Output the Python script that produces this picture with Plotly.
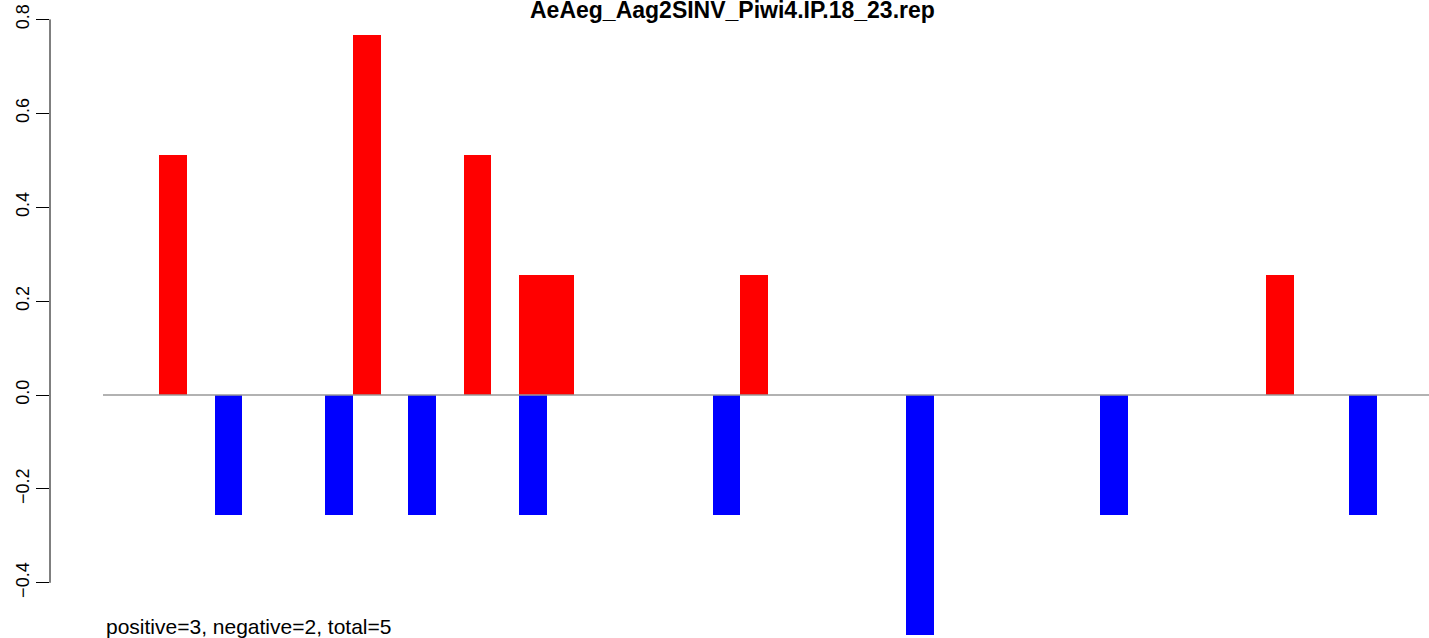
import plotly.graph_objects as go

# Data
positions_red = [0, 7, 11, 13, 14, 21, 40]
values_red = [0.511, 0.7665, 0.511, 0.2555, 0.2555, 0.2555, 0.2555]
positions_blue = [2, 6, 9, 13, 20, 27, 34, 43]
values_blue = [-0.2555, -0.2555, -0.2555, -0.2555, -0.2555, -0.511, -0.2555, -0.2555]
y_ticks = [-0.4, -0.2, 0.0, 0.2, 0.4, 0.6, 0.8]
y_tick_labels = ["\u22120.4", "\u22120.2", "0.0", "0.2", "0.4", "0.6", "0.8"]
title_text = "AeAeg_Aag2SINV_Piwi4.IP.18_23.rep"
footer_text = "positive=3, negative=2, total=5"

W, H = 1429, 638
L = 50
FONT = "Liberation Sans, Arial, Helvetica, sans-serif"

fig = go.Figure()
fig.add_trace(go.Bar(x=positions_red, y=values_red, width=1,
                     marker=dict(color="#ff0000", line=dict(width=0)), showlegend=False))
fig.add_trace(go.Bar(x=positions_blue, y=values_blue, width=1,
                     marker=dict(color="#0000ff", line=dict(width=0)), showlegend=False))

unit = 27.67
x_min = -(173 - L) / unit
x_max = x_min + (W - L) / unit
y_scale = 469.5
y_max = 395 / y_scale
y_min = -(H - 395) / y_scale

fig.update_layout(
    template="none",
    width=W, height=H,
    margin=dict(l=L, r=0, t=0, b=0, pad=0, autoexpand=False),
    paper_bgcolor="white", plot_bgcolor="white",
    barmode="overlay", bargap=0,
    font=dict(family=FONT, color="black"),
    xaxis=dict(range=[x_min, x_max], visible=False, fixedrange=True, automargin=False),
    yaxis=dict(range=[y_min, y_max], showgrid=False, zeroline=False, showline=False,
               automargin=False, fixedrange=True,
               ticks="outside", ticklen=13, tickwidth=1, tickcolor="black",
               tickvals=y_ticks, ticktext=y_tick_labels, tickangle=-90,
               tickfont=dict(size=18, family=FONT, color="black")),
    shapes=[
        dict(type="line", xref="paper", yref="y", x0=0, x1=0, y0=-0.4, y1=0.8,
             line=dict(color="black", width=1)),
        dict(type="line", xref="x", yref="y", x0=(103 - 173) / unit, x1=x_max, y0=0, y1=0,
             line=dict(color="#999999", width=1.5), layer="above"),
    ],
    annotations=[
        dict(text="<b>" + title_text + "</b>", xref="paper", yref="paper",
             x=(732.5 - L) / (W - L), y=1 - 10 / H, xanchor="center", yanchor="middle",
             showarrow=False, font=dict(size=23, family=FONT, color="black")),
        dict(text=footer_text, xref="paper", yref="paper",
             x=(104 - L) / (W - L), y=1 - 626.5 / H, xanchor="left", yanchor="middle",
             showarrow=False, font=dict(size=21, family=FONT, color="black")),
    ],
)

fig.write_html("out.html",
               config={"displayModeBar": False, "staticPlot": True},
               post_script="document.body.style.margin='0';document.body.style.overflow='hidden';")
